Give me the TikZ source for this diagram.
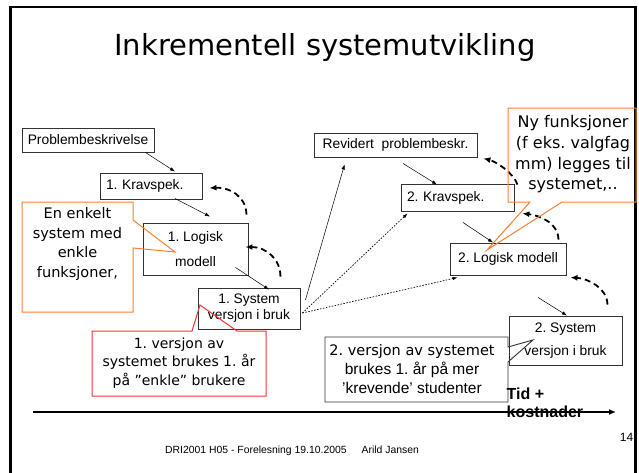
\documentclass[tikz,border=0pt]{standalone}
\usepackage{fontspec}
\setmainfont{Liberation Sans}
\newfontfamily\comicfont{DejaVu Sans}
\usetikzlibrary{arrows.meta}
\frenchspacing

\definecolor{noteorange}{RGB}{250,128,48}
\definecolor{notered}{RGB}{248,52,52}

\tikzset{
  box/.style={draw=black!80, line width=0.9pt, inner sep=0pt, align=center,
    font=\fontsize{13.8}{16}\selectfont},
  flow/.style={line width=0.5pt, -{Latex[length=5pt,width=3.5pt]}},
  dots/.style={line width=0.7pt, dash pattern=on 1.5pt off 1.5pt},
  back/.style={line width=1.8pt, dash pattern=on 6pt off 4pt,
    -{Latex[length=7pt,width=6pt]}},
  note/.style={align=center, inner sep=0pt},
}

\begin{document}
\begin{tikzpicture}[x=1pt,y=-1pt]
\useasboundingbox (0,0) rectangle (639,472);
\fill[white] (0,0) rectangle (639,472);
% slide frame
\draw[line width=2.5pt] (10.5,473) -- (10.5,7) -- (635.5,7) -- (635.5,473);

\node[font=\comicfont\fontsize{29}{34}\selectfont, anchor=base] (title) at (325,55) {Inkrementell systemutvikling};

% first round
\node[box, minimum width=132pt, minimum height=24pt] (prob) at (88,140) {Problembeskrivelse};
\node[box, text width=90pt, align=left, inner xsep=6pt, minimum height=26pt] (krav1) at (151,186) {1. Kravspek.};
\node[box, minimum width=105pt, minimum height=52pt] (logisk1) at (195.5,249) {1. Logisk\\[9pt]modell};
\node[box, minimum width=102pt, minimum height=41pt] (sys1) at (249,308.5) {1. System\\versjon i bruk};

% second round
\node[box, minimum width=163pt, minimum height=24pt] (rev) at (395.5,145) {Revidert\ \ problembeskr.};
\node[box, text width=101pt, align=left, inner xsep=6pt, minimum height=27pt] (krav2) at (457.5,197.5) {2. Kravspek.};
\node[box, minimum width=116pt, minimum height=32pt] (logisk2) at (508,259) {2. Logisk modell};
\node[box, minimum width=113pt, minimum height=49pt] (sys2) at (565.5,340.5) {2. System\\[7pt]versjon i bruk};

% forward steps
\draw[flow] ([xshift=-9pt]prob.south east) -- ([xshift=24pt,yshift=1pt]krav1.north);
\draw[flow] ([xshift=24pt,yshift=1pt]krav1.south) -- ([xshift=14.5pt,yshift=6pt]logisk1.north);
\draw[flow] ([xshift=-13pt,yshift=8pt]logisk1.south east) -- ([xshift=20pt,yshift=-2pt]sys1.north);
\draw[flow] ([xshift=5pt,yshift=8.5pt]sys1.east) -- ([xshift=31pt,yshift=-7pt]rev.south west);
\draw[flow, dots] ([xshift=2pt,yshift=-4.5pt]sys1.east) -- ([xshift=7pt,yshift=-2pt]krav2.south west);
\draw[flow, dots] ([xshift=2pt,yshift=-4.5pt]sys1.east) -- ([xshift=8pt,yshift=-2pt]logisk2.south west);
\draw[flow] ([xshift=7.5pt,yshift=-6pt]rev.south) -- ([xshift=-20.5pt,yshift=-1pt]krav2.north);
\draw[flow] ([xshift=5.5pt,yshift=-11pt]krav2.south) -- ([xshift=-15pt]logisk2.north);
\draw[flow] ([xshift=30pt,yshift=-22pt]logisk2.south) -- ([xshift=1.5pt]sys2.north);

% feedback
\draw[back] ([xshift=-2pt,yshift=8pt]logisk1.north east) .. controls +(0,-18) and +(20,-1) .. ([xshift=7pt,yshift=-2pt]krav1.east);
\draw[back] ([xshift=-20pt,yshift=11pt]sys1.north east) .. controls +(0,-18) and +(20,0) .. ([xshift=-3pt,yshift=2pt]logisk1.east);
\draw[back] ([xshift=3pt,yshift=-1pt]krav2.north east) .. controls +(-4,-12) and +(12,3) .. ([xshift=6pt,yshift=-1pt]rev.south east);
\draw[back] ([xshift=-8pt,yshift=3pt]logisk2.north east) .. controls +(0,-16) and +(18,2) .. ([xshift=8pt,yshift=-2pt]krav2.south east);
\draw[back] ([xshift=-15pt,yshift=11pt]sys2.north east) .. controls +(0,-16) and +(18,1) .. ([xshift=4pt,yshift=-2pt]logisk2.south east);

% notes
\node[note, font=\comicfont\fontsize{14.5}{19.5}\selectfont] (enkelt) at (77.5,244) {En enkelt\\system med\\enkle\\funksjoner,};
\coordinate (enkelt tip) at (175,252);
\draw[noteorange, line width=1pt] (133,220) -- (133,202) -- (22,202) -- (22,312) -- (133,312) -- (133,248) -- (enkelt tip) -- cycle;

\node[note, font=\comicfont\fontsize{14}{18.5}\selectfont] (versjon1) at (179,363) {1. versjon av\\systemet brukes 1. år\\på ”enkle” brukere};
\coordinate (versjon1 tip) at (200,305);
\draw[notered, line width=1pt] (192,331) -- (92,331) -- (92,396) -- (266,396) -- (266,331) -- (237,331) -- (versjon1 tip) -- cycle;

\node[note, font=\comicfont\fontsize{16}{20.7}\selectfont] (nyfunk) at (573,154.5) {Ny funksjoner\\(f eks. valgfag\\mm) legges til\\systemet,..};
\coordinate (nyfunk tip) at (487,250);
\draw[noteorange, line width=1pt] (530,202) -- (508,202) -- (508,108) -- (636,108) -- (636,202) -- (562,202) -- (nyfunk tip) -- cycle;

\node[note, font=\fontsize{15.5}{19}\selectfont] (versjon2) at (412,369) {{\comicfont\fontsize{14.5}{19}\selectfont 2. versjon av systemet}\\brukes 1. år på mer\\'krevende' studenter};
\coordinate (versjon2 tip) at (533,340);
\draw[black!80, line width=0.9pt] (508,347) -- (508,337) -- (325,337) -- (325,402) -- (508,402) -- (508,362) -- (versjon2 tip) -- cycle;

% time axis
\node[font=\bfseries\fontsize{16}{18.5}\selectfont, align=left, anchor=west, inner sep=0pt] (tid) at (506.5,403) {Tid +\\kostnader};
\coordinate (t0) at (33,412);
\coordinate (t1) at (616,412);
\draw[line width=2pt, -{Latex[length=7pt,width=6pt]}] (t0) -- (t1);

\node[font=\fontsize{12}{14}\selectfont, inner sep=0pt] (page) at (626.5,437) {14};
\node[font=\fontsize{10.4}{12}\selectfont, anchor=base west, inner sep=0pt] (foot) at (165,453.5) {DRI2001 H05 - Forelesning 19.10.2005\hspace{15pt}Arild Jansen};
\end{tikzpicture}
\end{document}
